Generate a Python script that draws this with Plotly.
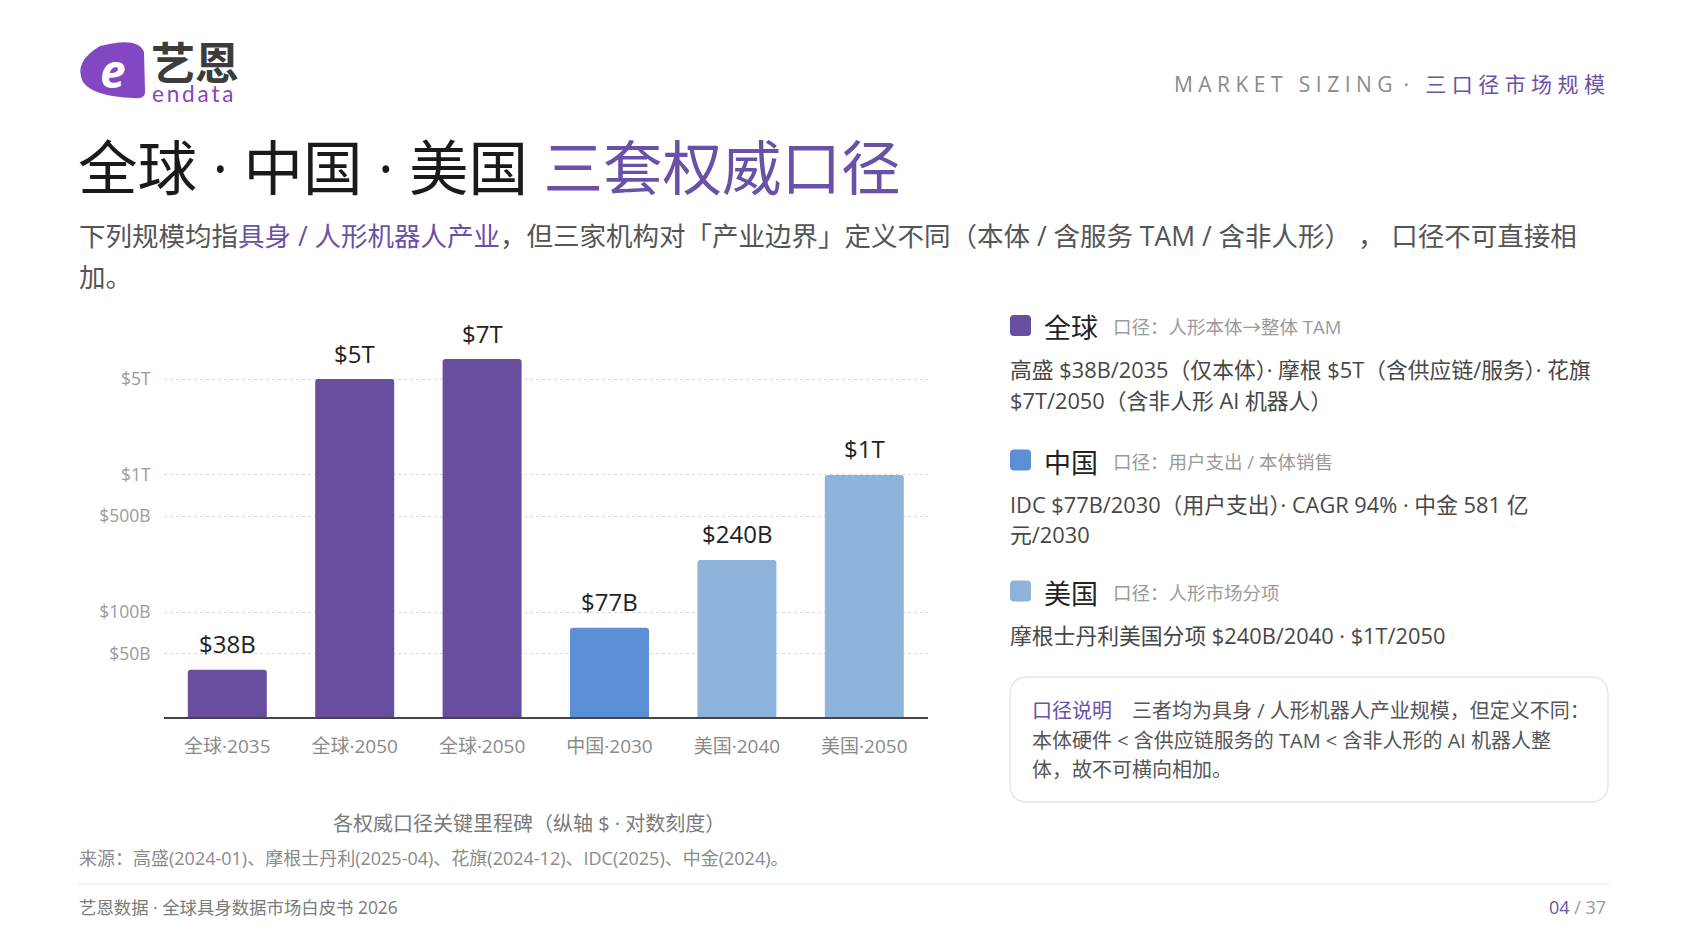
import numpy as np
import plotly.graph_objects as go

W, H = 1688, 950
FONT = "Open Sans, Noto Sans CJK SC"
CJK = "Noto Sans CJK SC"
PURPLE_TXT = "#6a50a7"
NB = "\u00a0"
TS = "\u2009"

# ---------------- data ----------------
categories = ["全球·2035", "全球·2050", "全球·2050", "中国·2030", "美国·2040", "美国·2050"]
values_B = [38, 5000, 7000, 77, 240, 1000]          # in $B
value_labels = ["$38B", "$5T", "$7T", "$77B", "$240B", "$1T"]
bar_region = ["全球", "全球", "全球", "中国", "美国", "美国"]
region_colors = {"全球": "#674e9f", "中国": "#5b8ed4", "美国": "#8eb3da"}
ytick_vals = [50, 100, 500, 1000, 5000]
ytick_text = ["$50B", "$100B", "$500B", "$1T", "$5T"]

legend_regions = ["全球", "中国", "美国"]
legend_scope = ["口径：人形本体→整体 TAM", "口径：用户支出 / 本体销售", "口径：人形市场分项"]
legend_body = [
    ["高盛 $38B/2035（仅本体）· 摩根 $5T（含供应链/服务）· 花旗", "$7T/2050（含非人形 AI 机器人）"],
    ["IDC $77B/2030（用户支出）· CAGR 94% · 中金 581 亿", "元/2030"],
    ["摩根士丹利美国分项 $240B/2040 · $1T/2050"],
]

# ---------------- helpers ----------------
ann = []
shapes = []


def P(x, y):
    return f"{x / W:.5f},{1 - y / H:.5f}"


def txt(x, y, text, size, color, xanchor="left", yanchor="middle", family=FONT):
    ann.append(dict(xref="paper", yref="paper", x=x / W, y=1 - y / H, text=text,
                    showarrow=False, xanchor=xanchor, yanchor=yanchor,
                    font=dict(size=size, color=color, family=family)))


def rrect(x0, y0, x1, y1, r):
    return (f"M {P(x0 + r, y0)} L {P(x1 - r, y0)} Q {P(x1, y0)} {P(x1, y0 + r)} "
            f"L {P(x1, y1 - r)} Q {P(x1, y1)} {P(x1 - r, y1)} L {P(x0 + r, y1)} "
            f"Q {P(x0, y1)} {P(x0, y1 - r)} L {P(x0, y0 + r)} Q {P(x0, y0)} {P(x0 + r, y0)} Z")


def spaced(s, sep=NB):
    return sep.join(NB if c == " " else c for c in s)


# ---------------- chart ----------------
idx = list(range(len(categories)))
fig = go.Figure()
fig.add_trace(go.Bar(
    x=idx, y=values_B, width=0.62,
    marker=dict(color=[region_colors[r] for r in bar_region], line=dict(width=0), cornerradius=3),
    hoverinfo="skip",
))

for i, v, lab in zip(idx, values_B, value_labels):
    ann.append(dict(xref="x", yref="y", x=i, y=np.log10(v), text=lab, showarrow=False,
                    xanchor="center", yanchor="middle", yshift=26,
                    font=dict(size=24, color="#222222", family=FONT)))

# ---------------- header ----------------
# logo
shapes.append(dict(type="path", xref="paper", yref="paper",
                   path=(f"M {P(100, 46)} Q {P(138, 36)} {P(144, 52)} L {P(145, 90)} "
                         f"Q {P(146, 100)} {P(134, 98)} Q {P(94, 97)} {P(83, 82)} "
                         f"Q {P(73, 62)} {P(100, 46)} Z"),
                   fillcolor="#8447c2", line=dict(width=0), layer="above"))
txt(113, 70, "<b><i>e</i></b>", 46, "#ffffff", xanchor="center")
txt(149, 61, "<b>艺恩</b>", 44, "#3c3c3c", family=CJK)
txt(150, 93, spaced("endata", TS), 22.5, "#8a3fc4", family="Lato")

txt(1607, 84, f"<span style='color:#8a8a8a'>{spaced('MARKET SIZING')}{NB}{NB}·{NB}{NB}{NB}</span>"
              f"<span style='color:{PURPLE_TXT}'>{spaced('三口径市场规模')}</span>",
    21, "#8a8a8a", xanchor="right")

txt(76, 167, f"全球 · 中国 · 美国 <span style='color:{PURPLE_TXT}'>三套权威口径</span>", 59.5, "#1a1a1a")

txt(77, 236, f"下列规模均指<span style='color:{PURPLE_TXT}'>具身 / 人形机器人产业</span>，"
             "但三家机构对「产业边界」定义不同（本体 / 含服务 TAM / 含非人形） ， 口径不可直接相",
    26.5, "#555555")
txt(77, 277, "加。", 26.5, "#555555")

# ---------------- right panel ----------------
sec_y = [325.5, 460, 591]
for k, (reg, scope, body) in enumerate(zip(legend_regions, legend_scope, legend_body)):
    y = sec_y[k]
    shapes.append(dict(type="path", xref="paper", yref="paper",
                       path=rrect(1010, y - 10.5, 1031, y + 10.5, 4),
                       fillcolor=region_colors[reg], line=dict(width=0)))
    txt(1042, y + 1, reg, 27, "#222222", family=CJK)
    txt(1111, y + 1, scope, 18.5, "#9a9a9a")
    for j, line in enumerate(body):
        txt(1008, y + 44 + j * 30.5, line, 21.8, "#474747")

# note box
shapes.append(dict(type="path", xref="paper", yref="paper",
                   path=rrect(1010, 677, 1608, 802, 18),
                   fillcolor="#ffffff", line=dict(color="#e6e6ec", width=1.5)))
txt(1030, 710.5, f"<span style='color:{PURPLE_TXT}'>口径说明</span>　三者均为具身 / 人形机器人产业规模，但定义不同：",
    20, "#555555")
txt(1030, 740.6, "本体硬件 &lt; 含供应链服务的 TAM &lt; 含非人形的 AI 机器人整", 20, "#555555")
txt(1030, 769.7, "体，故不可横向相加。", 20, "#555555")

# ---------------- footer ----------------
txt(529, 823.5, "各权威口径关键里程碑（纵轴 $ · 对数刻度）", 20, "#7a7a7a", xanchor="center")
txt(77, 858, "来源：高盛(2024-01)、摩根士丹利(2025-04)、花旗(2024-12)、IDC(2025)、中金(2024)。", 18, "#8a8a8a")
shapes.append(dict(type="line", xref="paper", yref="paper", x0=78.6 / W, x1=1609 / W,
                   y0=1 - 884 / H, y1=1 - 884 / H, line=dict(color="#e6e6e6", width=1.2)))
txt(77, 906.5, "艺恩数据 · 全球具身数据市场白皮书 2026", 17.4, "#7a7a7a")
txt(1608, 906.5, f"<span style='color:{PURPLE_TXT}'>04</span> / 37", 18, "#9a9a9a", xanchor="right")

# ---------------- layout ----------------
ylo, yhi = np.log10(17.2), 4.0
fig.update_layout(
    width=W, height=H, autosize=False,
    margin=dict(l=0, r=0, t=0, b=0),
    paper_bgcolor="#ffffff", plot_bgcolor="#ffffff",
    showlegend=False,
    font=dict(family=FONT),
    bargap=0.38,
    xaxis=dict(domain=[163.6 / W, 928 / W], range=[-0.5, 5.5], tickmode="array",
               tickvals=idx, ticktext=categories, showgrid=False, zeroline=False,
               showline=True, linecolor="#454545", linewidth=2, ticks="",
               tickfont=dict(size=19, color="#8a8a8a", family=FONT),
               ticklabelstandoff=11, automargin=False, fixedrange=True),
    yaxis=dict(type="log", domain=[1 - 717 / H, 1 - 337.8 / H], range=[ylo, yhi],
               tickmode="array", tickvals=ytick_vals, ticktext=ytick_text,
               showgrid=True, gridcolor="#d9d9d9", griddash="dot", gridwidth=1,
               zeroline=False, showline=False, ticks="",
               tickfont=dict(size=17.5, color="#9a9a9a", family=FONT),
               ticklabelstandoff=12, automargin=False, fixedrange=True),
    annotations=ann,
    shapes=shapes,
)

fig.write_html("out.html")
